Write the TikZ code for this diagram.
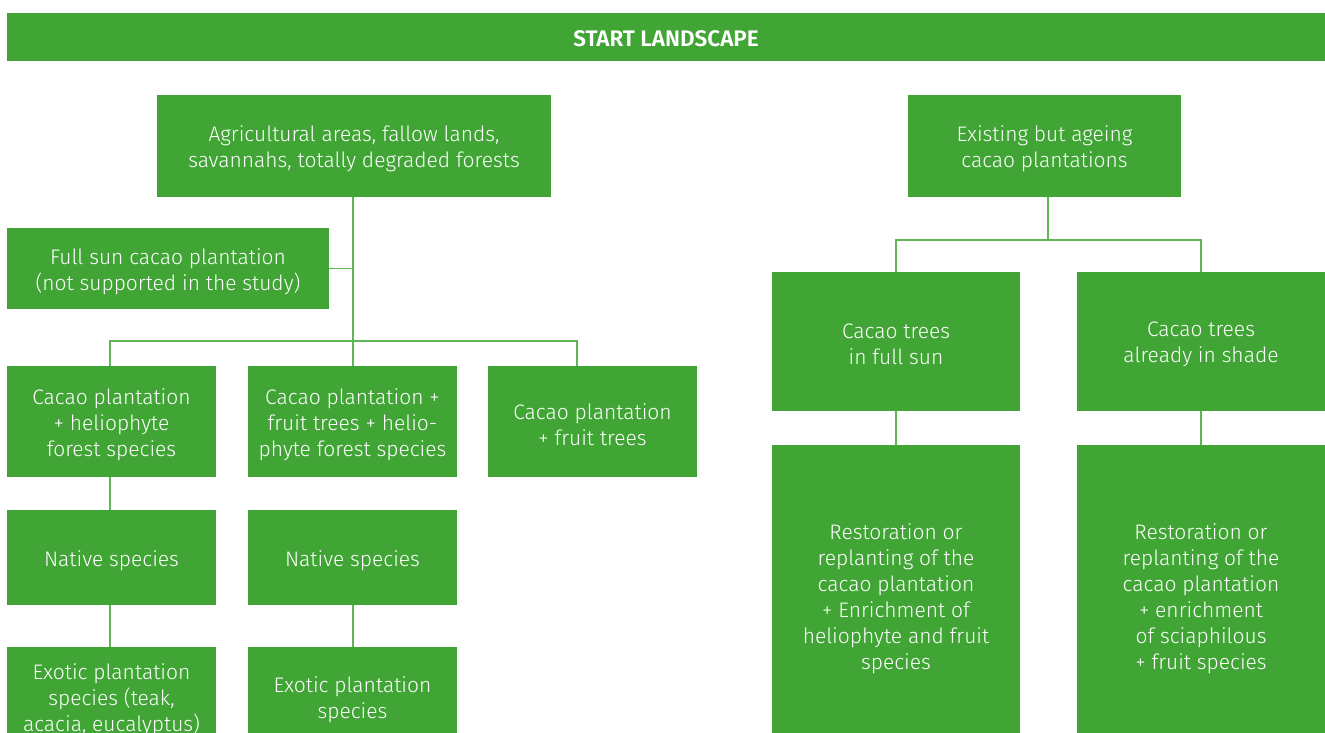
\documentclass[tikz,border=0pt]{standalone}
\usepackage{fontspec}
\setmainfont{Fira Sans}[UprightFont={* Light},BoldFont={* SemiBold}]
\definecolor{leaf}{HTML}{40A535}
\definecolor{twig}{HTML}{62B557}
\begin{document}
\begin{tikzpicture}[x=1pt,y=-1pt,
  box/.style={fill=leaf,inner sep=0pt},
  lbl/.style={text=white,align=center,inner sep=0pt,yshift=-3pt,
    font=\fontsize{21}{26}\selectfont},
  txt/.style={label={[lbl]center:{#1}}},
  conn/.style={draw=twig,line width=1.3pt}]
\useasboundingbox (0,0) rectangle (1325,733);
% title bar
\node[box,minimum width=1318,minimum height=48,
  label={[lbl,yshift=1pt,font=\bfseries\fontsize{22.5}{26}\selectfont]center:START LANDSCAPE}] (title) at (666,37) {};
% left branch
\node[box,minimum width=394,minimum height=101,txt={Agricultural areas, fallow lands,\\savannahs, totally degraded forests}] (agri) at (354,146) {};
\node[box,minimum width=322,minimum height=81,txt={Full sun cacao plantation\\(not supported in the study)}] (fullsun) at (168,268.5) {};
\node[box,minimum width=209,minimum height=111,txt={Cacao plantation\\+ heliophyte\\forest species}] (helio) at (111.5,421.5) {};
\node[box,minimum width=209,minimum height=111,txt={Cacao plantation +\\fruit trees + helio-\\phyte forest species}] (fruithelio) at (352.5,421.5) {};
\node[box,minimum width=209,minimum height=111,txt={Cacao plantation\\+ fruit trees}] (fruit) at (592.5,421.5) {};
\node[box,minimum width=209,minimum height=95,txt={Native species}] (nativeA) at (111.5,557.5) {};
\node[box,minimum width=209,minimum height=95,txt={Native species}] (nativeB) at (352.5,557.5) {};
\node[box,minimum width=209,minimum height=100,txt={Exotic plantation\\species (teak,\\acacia, eucalyptus)}] (exoticA) at (111.5,697) {};
\node[box,minimum width=209,minimum height=100,txt={Exotic plantation\\species}] (exoticB) at (352.5,697) {};
% right branch
\node[box,minimum width=273,minimum height=101,txt={Existing but ageing\\cacao plantations}] (ageing) at (1044.5,146) {};
\node[box,minimum width=248,minimum height=139,txt={Cacao trees\\in full sun}] (sun) at (896,341.5) {};
\node[box,minimum width=248,minimum height=139,txt={Cacao trees\\already in shade}] (shade) at (1201,341.5) {};
\node[box,minimum width=248,minimum height=302,txt={Restoration or\\replanting of the\\cacao plantation\\+ Enrichment of\\heliophyte and fruit\\species}] (restoreA) at (896,596) {};
\node[box,minimum width=248,minimum height=302,txt={Restoration or\\replanting of the\\cacao plantation\\+ enrichment\\of sciaphilous\\+ fruit species}] (restoreB) at (1201,596) {};
% junction points
\coordinate (trunk) at (353,0);
\coordinate (splitL) at (110,341);
\coordinate (splitR) at (577,341);
\coordinate (fork) at (1048,240);
% connectors, left
\draw[conn] (agri.south -| trunk) -- (fruithelio.north -| trunk);
\draw[conn] (fullsun.east) -- (fullsun.east -| trunk);
\draw[conn] (splitL |- helio.north) -- (splitL) -- (splitR) -- (splitR |- fruit.north);
\draw[conn] (helio.south -| splitL) -- (nativeA.north -| splitL);
\draw[conn] (nativeA.south -| splitL) -- (exoticA.north -| splitL);
\draw[conn] (nativeB.south -| trunk) -- (exoticB.north -| trunk);
% connectors, right
\draw[conn] (ageing.south -| fork) -- (fork);
\draw[conn] (sun.north) -- (sun.north |- fork) -- (shade.north |- fork) -- (shade.north);
\draw[conn] (sun.south) -- (restoreA.north);
\draw[conn] (shade.south) -- (restoreB.north);
\end{tikzpicture}
\end{document}
